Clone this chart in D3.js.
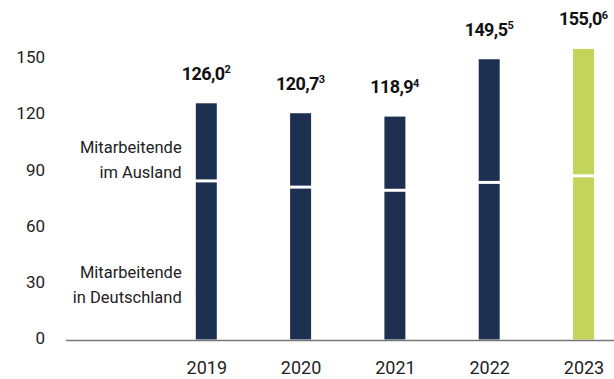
<!DOCTYPE html>
<html>
<head>
<meta charset="utf-8">
<script src="https://cdn.jsdelivr.net/npm/d3@7"></script>
<style>
  html, body { margin: 0; padding: 0; background: #fff; }
  svg { display: block; font-family: Roboto, "Liberation Sans", sans-serif; }
</style>
</head>
<body>
<svg id="chart" width="614" height="379"></svg>
<script>
// Mitarbeitende in Tausend
const years = ["2019", "2020", "2021", "2022", "2023"];
const totals = [126.0, 120.7, 118.9, 149.5, 155.0];
const totalLabels = ["126,0", "120,7", "118,9", "149,5", "155,0"];
const footnotes = ["2", "3", "4", "5", "6"];
const germany = [84.6, 81.3, 79.6, 83.8, 87.3];
const abroad = totals.map((t, i) => +(t - germany[i]).toFixed(1));
const yTicks = [0, 30, 60, 90, 120, 150];

const navy = "#1e3052";
const green = "#c2d45a";

const svg = d3.select("#chart");

const x = d3.scalePoint().domain(years).range([206.3, 583.5]);
const y = d3.scaleLinear().domain([0, 150]).range([339.5, 58.3]);
const barW = 21;

// y-axis tick labels (no axis line, labels only)
const yAxis = d3.axisLeft(y).tickValues(yTicks).tickSize(0).tickPadding(0).tickFormat(d3.format("d"));
const gy = svg.append("g").attr("transform", "translate(45,-1)").call(yAxis);
gy.select(".domain").remove();
gy.selectAll("text").attr("font-size", 17).attr("fill", "#222").attr("font-family", "Roboto, sans-serif");

// bars: lower segment Deutschland, upper segment Ausland
const stackData = years.map((yr, i) => ({ year: yr, germany: germany[i], abroad: abroad[i] }));
const series = d3.stack().keys(["germany", "abroad"])(stackData);

const barColor = (i) => (i === years.length - 1 ? green : navy);

svg.append("g").selectAll("g")
  .data(series)
  .join("g")
  .selectAll("rect")
  .data(d => d)
  .join("rect")
  .attr("x", d => x(d.data.year) - barW / 2)
  .attr("y", d => y(d[1]))
  .attr("width", barW)
  .attr("height", d => y(d[0]) - y(d[1]))
  .attr("fill", (d, i) => barColor(i));

// white separators between the two segments
svg.append("g").selectAll("line")
  .data(stackData)
  .join("line")
  .attr("x1", d => x(d.year) - barW / 2 - 0.5)
  .attr("x2", d => x(d.year) + barW / 2 + 0.5)
  .attr("y1", d => y(d.germany))
  .attr("y2", d => y(d.germany))
  .attr("stroke", "#fff")
  .attr("stroke-width", 3);

// baseline
svg.append("line")
  .attr("x1", 66).attr("x2", 614)
  .attr("y1", y(0) + 1).attr("y2", y(0) + 1)
  .attr("stroke", "#777").attr("stroke-width", 1.3);

// x-axis year labels
const xAxis = d3.axisBottom(x).tickSize(0).tickPadding(0);
const gx = svg.append("g").attr("transform", "translate(0,374)").call(xAxis);
gx.select(".domain").remove();
gx.selectAll("text")
  .attr("dy", 0).attr("y", 0)
  .attr("font-size", 18).attr("fill", "#222").attr("font-family", "Roboto, sans-serif");

// total labels with footnote markers
const totalsG = svg.append("g").selectAll("text")
  .data(years)
  .join("text")
  .attr("x", d => x(d))
  .attr("y", (d, i) => y(totals[i]) - 23.5)
  .attr("text-anchor", "middle")
  .attr("font-weight", 700)
  .attr("font-size", 18)
  .attr("letter-spacing", "-0.6px")
  .attr("fill", "#111");
totalsG.append("tspan").text((d, i) => totalLabels[i]);
totalsG.append("tspan")
  .attr("font-size", 11)
  .attr("dy", -6.5)
  .attr("letter-spacing", "0px")
  .text((d, i) => footnotes[i]);

// segment labels
const segLabels = [
  { lines: ["Mitarbeitende", "im Ausland"], y0: 153.3 },
  { lines: ["Mitarbeitende", "in Deutschland"], y0: 278.3 }
];
segLabels.forEach(s => {
  const t = svg.append("text")
    .attr("text-anchor", "end")
    .attr("font-size", 16.5)
    .attr("fill", "#222");
  s.lines.forEach((line, j) => {
    t.append("tspan").attr("x", 181.7).attr("y", s.y0 + j * 24.5).text(line);
  });
});
</script>
</body>
</html>
